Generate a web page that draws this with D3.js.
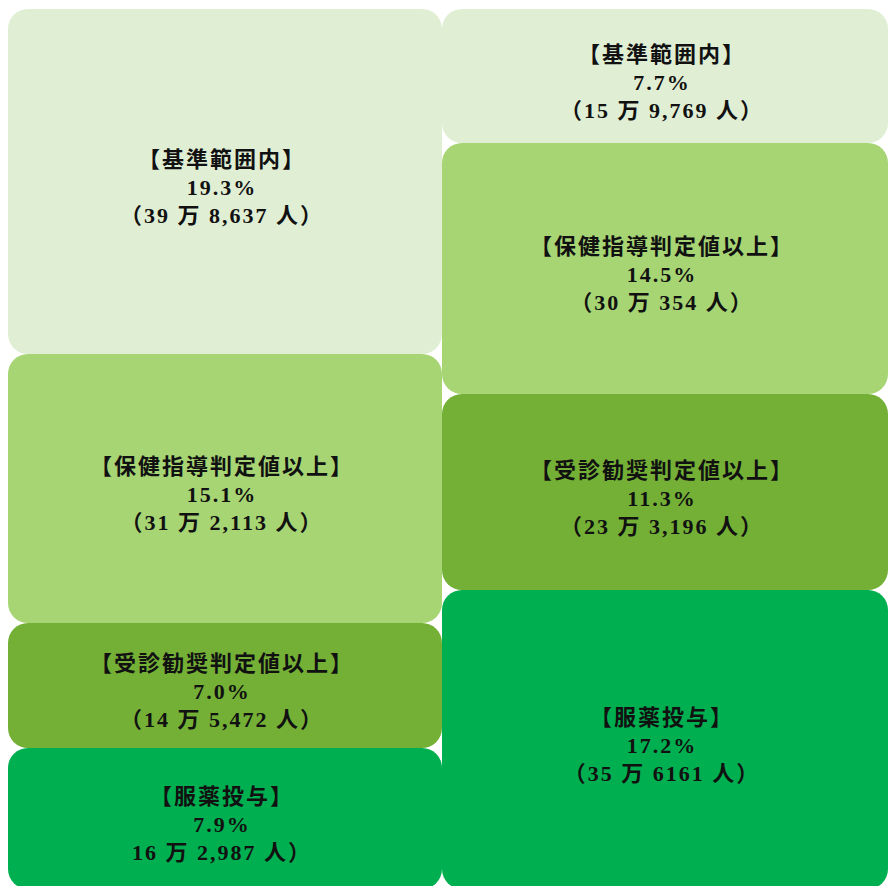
<!DOCTYPE html>
<html>
<head>
<meta charset="utf-8">
<script src="https://cdn.jsdelivr.net/npm/d3@7"></script>
<style>
  body { margin: 0; background: #fff; }
  text { font-family: "Liberation Serif", "Noto Sans CJK JP", serif; font-weight: bold; }
</style>
</head>
<body>
<svg id="chart" width="888" height="886"></svg>
<script>
const categories = ["【基準範囲内】", "【保健指導判定値以上】", "【受診勧奨判定値以上】", "【服薬投与】"];
const colors = ["#e0efd4", "#a7d574", "#74b036", "#00af50"];

// left column and right column, top to bottom
const leftPct = [19.3, 15.1, 7.0, 7.9];
const leftCount = ["（39 万 8,637 人）", "（31 万 2,113 人）", "（14 万 5,472 人）", "16 万 2,987 人）"];
const rightPct = [7.7, 14.5, 11.3, 17.2];
const rightCount = ["（15 万 9,769 人）", "（30 万 354 人）", "（23 万 3,196 人）", "（35 万 6161 人）"];

function column(name, pcts, counts) {
  return {
    name: name,
    children: pcts.map(function (p, i) {
      return { cat: i, value: p, count: counts[i] };
    })
  };
}

const data = { name: "all", children: [column("left", leftPct, leftCount), column("right", rightPct, rightCount)] };

const root = d3.hierarchy(data).sum(function (d) { return d.value || 0; });

d3.treemap()
  .tile(d3.treemapSliceDice)
  .size([880, 880])
  .round(true)(root);

const svg = d3.select("#chart");
const g = svg.append("g").attr("transform", "translate(8,9)");

const cells = g.selectAll("g.cell")
  .data(root.leaves())
  .join("g")
  .attr("class", "cell")
  .attr("transform", function (d) { return "translate(" + d.x0 + "," + d.y0 + ")"; });

cells.append("rect")
  .attr("width", function (d) { return d.x1 - d.x0; })
  .attr("height", function (d) { return d.y1 - d.y0; })
  .attr("rx", 20)
  .attr("fill", function (d) { return colors[d.data.cat]; });

const lineH = 28;
cells.each(function (d) {
  const lines = [categories[d.data.cat], d.data.value.toFixed(1) + "%", d.data.count];
  const cx = (d.x1 - d.x0) / 2 - 3;
  const t = d3.select(this).append("text")
    .attr("y", (d.y1 - d.y0) / 2 - lineH + 6)
    .attr("text-anchor", "middle")
    .attr("font-size", 22)
    .attr("letter-spacing", 2)
    .attr("fill", "#111");
  lines.forEach(function (s, i) {
    t.append("tspan")
      .attr("x", cx)
      .attr("dy", i === 0 ? "0.35em" : lineH)
      .text(s);
  });
});
</script>
</body>
</html>
